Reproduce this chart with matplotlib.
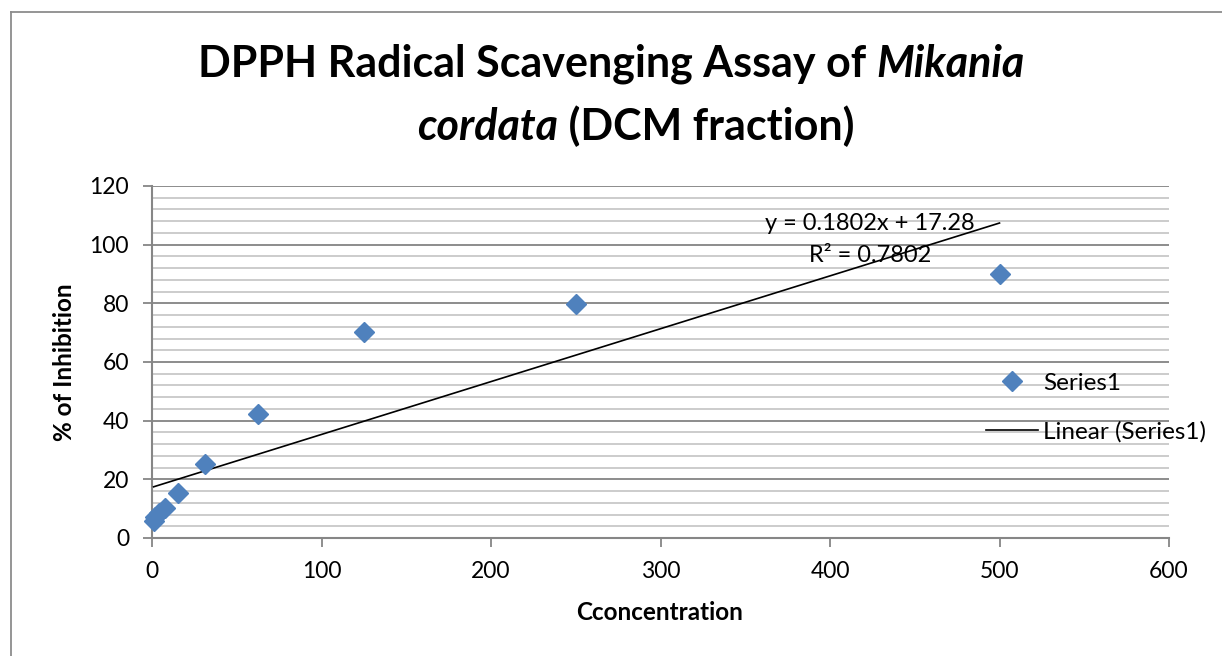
import matplotlib
matplotlib.use("Agg")
import matplotlib.pyplot as plt
from matplotlib.lines import Line2D
from matplotlib.ticker import MultipleLocator

# DPPH assay results for the DCM fraction
concentration = [0.98, 1.95, 3.9, 7.8, 15.6, 31.25, 62.5, 125, 250, 500]
inhibition = [5.8, 7.2, 8.6, 10.2, 15.3, 25.3, 42.3, 70.1, 79.9, 90.0]

# Linear trendline as reported
trend_slope = 0.1802
trend_intercept = 17.28
trend_r2 = 0.7802

x_ticks = [0, 100, 200, 300, 400, 500, 600]
y_ticks = [0, 20, 40, 60, 80, 100, 120]

series_label = "Series1"
trend_label = "Linear (Series1)"
x_title = "Cconcentration"
y_title = "% of Inhibition"
title_lines = [
    [("DPPH Radical Scavenging Assay of ", "normal"), ("Mikania", "italic")],
    [("cordata", "italic"), (" (DCM fraction)", "normal")],
]

plt.rcParams["font.family"] = ["Lato", "DejaVu Sans"]

W, H = 1222, 656
fig = plt.figure(figsize=(W / 100, H / 100), dpi=100)
fig.patch.set_facecolor("white")

# plot area in pixel terms
left_px, right_px, top_px, bottom_px = 152, 1169, 186, 538
ax = fig.add_axes([left_px / W, 1 - bottom_px / H,
                   (right_px - left_px) / W, (bottom_px - top_px) / H])

ax.set_xlim(x_ticks[0], x_ticks[-1])
ax.set_ylim(y_ticks[0], y_ticks[-1])
ax.set_xticks(x_ticks)
ax.set_yticks(y_ticks)
ax.yaxis.set_minor_locator(MultipleLocator(4))

axis_grey = "#868686"
ax.grid(axis="y", which="major", color="#8C8C8C", lw=1.4, zorder=0)
ax.grid(axis="y", which="minor", color="#C4C4C4", lw=1.2, zorder=0)
ax.set_axisbelow(True)
for side in ("top", "right"):
    ax.spines[side].set_visible(False)
for side in ("left", "bottom"):
    ax.spines[side].set_color(axis_grey)
    ax.spines[side].set_linewidth(1.5)

ax.tick_params(which="major", direction="out", length=6.5, width=1.3,
               color=axis_grey, labelsize=16.5, pad=10, labelcolor="black")
ax.tick_params(which="minor", length=0)

# trendline from the reported coefficients
x0, x1 = min(concentration), max(concentration)
ax.plot([x0, x1], [trend_slope * x0 + trend_intercept, trend_slope * x1 + trend_intercept],
        color="black", lw=1.2, zorder=3)

marker_size = 10.5
ax.plot(concentration, inhibition, ls="none", marker="D", ms=marker_size,
        color="#4F81BD", mec="#4F81BD", zorder=4, clip_on=False)

ax.text((870 - left_px) / (right_px - left_px), (bottom_px - 224) / (bottom_px - top_px),
        f"y = {trend_slope}x + {trend_intercept}", transform=ax.transAxes,
        ha="center", va="center", fontsize=17)
ax.text((870 - left_px) / (right_px - left_px), (bottom_px - 256) / (bottom_px - top_px),
        f"R\u00b2 = {trend_r2}", transform=ax.transAxes,
        ha="center", va="center", fontsize=17)

handles = [
    Line2D([], [], ls="none", marker="D", ms=marker_size, color="#4F81BD"),
    Line2D([], [], color="black", lw=1.2),
]
fig.legend(handles, [series_label, trend_label], loc="center left",
           bbox_to_anchor=(986 / W, 1 - 407.5 / H), bbox_transform=fig.transFigure,
           frameon=False, fontsize=17.5, handlelength=2.14, handletextpad=0.2,
           labelspacing=1.1, borderpad=0, borderaxespad=0)

fig.text(660 / W, 1 - 612 / H, x_title, ha="center", va="center",
         fontsize=17.5, fontweight="bold")
fig.text(65 / W, 1 - 362 / H, y_title, ha="center", va="center",
         rotation=90, fontsize=17.5, fontweight="bold")

# two-line title with italic species name
renderer = fig.canvas.get_renderer()
title_size = 31
line_centers = [(611, 77), (636, 140)]
for pieces, (cx, base_y) in zip(title_lines, line_centers):
    texts = []
    for s, style in pieces:
        t = fig.text(0, 1 - base_y / H, s, fontsize=title_size, fontweight="bold",
                     fontstyle=style, ha="left", va="baseline")
        texts.append(t)
    widths = [t.get_window_extent(renderer).width for t in texts]
    total = sum(widths)
    x = cx - total / 2
    for t, w in zip(texts, widths):
        t.set_x(x / W)
        x += w

# chart frame
frame_col = "#8C8C8C"
fig.add_artist(Line2D([11 / W, 11 / W], [0, 1 - 12 / H], transform=fig.transFigure,
                      color=frame_col, lw=1.3))
fig.add_artist(Line2D([11 / W, 1], [1 - 12 / H, 1 - 12 / H], transform=fig.transFigure,
                      color=frame_col, lw=1.3))

fig.savefig("out.png", dpi=100, facecolor="white")
